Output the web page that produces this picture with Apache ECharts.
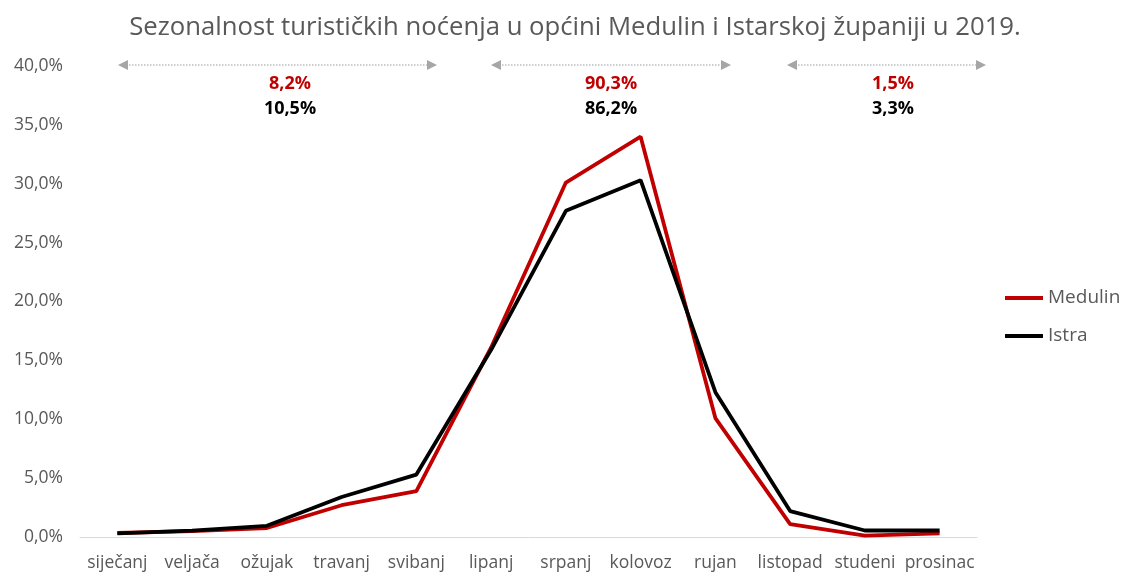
<!DOCTYPE html>
<html>
<head>
<meta charset="utf-8">
<script src="https://cdn.jsdelivr.net/npm/echarts@6/dist/echarts.min.js"></script>
<style>
  html, body { margin: 0; padding: 0; background: #fff; }
  #chart { width: 1126px; height: 574px; }
</style>
</head>
<body>
<div id="chart"></div>
<script>
// mjeseci
let months = ["siječanj", "veljača", "ožujak", "travanj", "svibanj", "lipanj",
  "srpanj", "kolovoz", "rujan", "listopad", "studeni", "prosinac"];
// udio noćenja po mjesecima (%)
let medulin = [0.34, 0.5, 0.76, 2.7, 3.9, 16.1, 30.1, 34.0, 10.1, 1.1, 0.12, 0.3];
let istra = [0.3, 0.55, 0.95, 3.4, 5.3, 15.9, 27.7, 30.3, 12.3, 2.2, 0.55, 0.55];
// sezone: predsezona, sezona, posezona
let medulinSeason = ["8,2%", "90,3%", "1,5%"];
let istraSeason = ["10,5%", "86,2%", "3,3%"];

let font = "'Open Sans', 'Noto Sans', sans-serif";
let grey = "#595959";

// strelice iznad grafa
let arrows = [[118, 437], [491, 731], [787, 986]];
let labelX = [290, 611, 893];
let graphic = [];
arrows.forEach(function (a, i) {
  let y = 65;
  graphic.push({
    type: "line",
    shape: { x1: a[0] + 8, y1: y, x2: a[1] - 8, y2: y },
    style: { stroke: "#bfbfbf", lineWidth: 1.5, lineDash: [1.5, 1.5] }
  });
  graphic.push({
    type: "polygon",
    shape: { points: [[a[0], y], [a[0] + 10, y - 5], [a[0] + 10, y + 5]] },
    style: { fill: "#a6a6a6" }
  });
  graphic.push({
    type: "polygon",
    shape: { points: [[a[1], y], [a[1] - 10, y - 5], [a[1] - 10, y + 5]] },
    style: { fill: "#a6a6a6" }
  });
  graphic.push({
    type: "text", x: labelX[i], y: 84,
    style: { text: medulinSeason[i], fill: "#c00000", font: "bold 18px " + font, textAlign: "center", textVerticalAlign: "middle" }
  });
  graphic.push({
    type: "text", x: labelX[i], y: 109,
    style: { text: istraSeason[i], fill: "#000", font: "bold 18px " + font, textAlign: "center", textVerticalAlign: "middle" }
  });
});

let myChart = echarts.init(document.getElementById("chart"));
let option = {
  animation: false,
  title: {
    text: "Sezonalnost turističkih noćenja u općini Medulin i Istarskoj županiji u 2019.",
    left: 570, top: 10, textAlign: "center",
    textStyle: { color: grey, fontSize: 25.7, fontWeight: "normal", fontFamily: font }
  },
  legend: {
    orient: "vertical", left: 1005, top: 288, padding: 0,
    itemWidth: 38, itemHeight: 4, itemGap: 18, icon: "rect",
    textStyle: { color: grey, fontSize: 19, lineHeight: 20, fontFamily: font },
    data: ["Medulin", "Istra"]
  },
  grid: { left: 80, right: 149, top: 66, bottom: 37, containLabel: false },
  xAxis: {
    type: "category", data: months, boundaryGap: true,
    axisLine: { lineStyle: { color: "#d9d9d9", width: 1 } },
    axisTick: { show: false },
    axisLabel: { color: grey, fontSize: 17.5, fontFamily: font, margin: 17, interval: 0 }
  },
  yAxis: {
    type: "value", min: 0, max: 40, interval: 5,
    splitLine: { show: false },
    axisLabel: {
      color: grey, fontSize: 17.5, fontFamily: font, margin: 17,
      formatter: function (v) { return v.toFixed(1).replace(".", ",") + "%"; }
    }
  },
  series: [
    { name: "Medulin", type: "line", data: medulin, symbol: "none",
      itemStyle: { color: "#c00000" }, lineStyle: { color: "#c00000", width: 3.8 } },
    { name: "Istra", type: "line", data: istra, symbol: "none",
      itemStyle: { color: "#000" }, lineStyle: { color: "#000", width: 3.8 } }
  ],
  graphic: graphic
};
myChart.setOption(option);
</script>
</body>
</html>
